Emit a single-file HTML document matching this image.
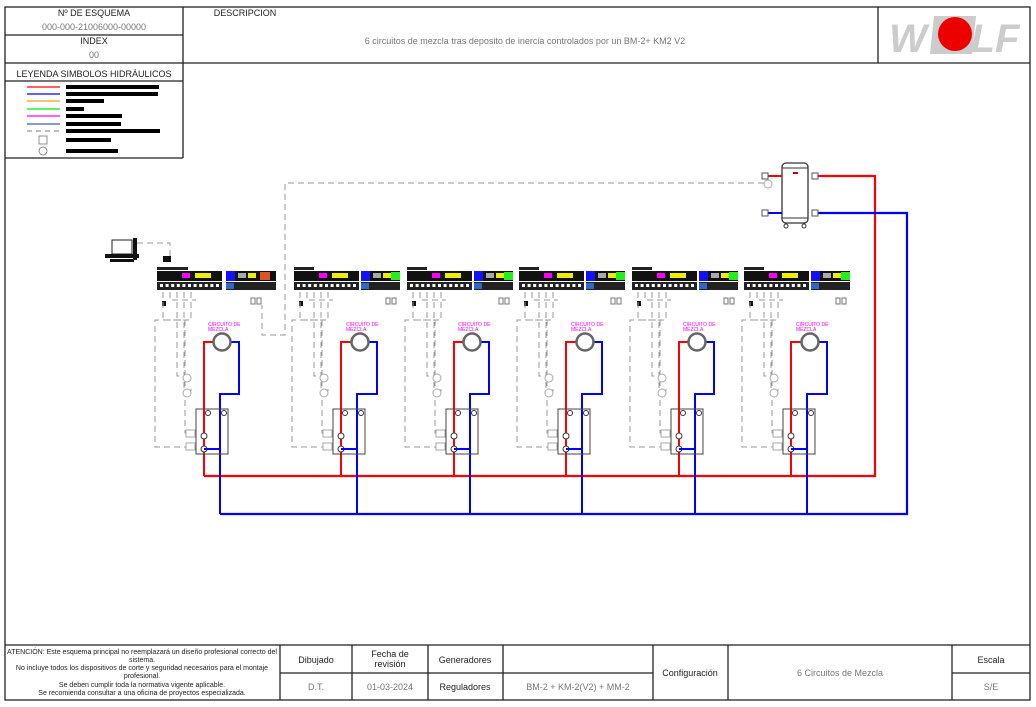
<!DOCTYPE html>
<html><head><meta charset="utf-8"><style>
body{margin:0;background:#fff;width:1036px;height:707px;overflow:hidden;font-family:"Liberation Sans",sans-serif}
svg{position:absolute;left:0;top:0}
text{font-family:"Liberation Sans",sans-serif}
</style></head><body>
<svg id="s" width="1036" height="707" viewBox="0 0 1036 707">
<g stroke="#222" fill="none" stroke-width="1.3">
<rect x="5" y="7" width="1025" height="693"/>
<line x1="5" y1="63" x2="1030" y2="63"/>
<line x1="183" y1="7" x2="183" y2="158"/>
<line x1="878" y1="7" x2="878" y2="63"/>
<line x1="5" y1="35" x2="183" y2="35"/>
<line x1="5" y1="81" x2="183" y2="81"/>
<line x1="5" y1="158" x2="183" y2="158"/>
<line x1="5" y1="645" x2="1030" y2="645"/>
<line x1="280" y1="645" x2="280" y2="700"/>
<line x1="352" y1="645" x2="352" y2="700"/>
<line x1="428" y1="645" x2="428" y2="700"/>
<line x1="503" y1="645" x2="503" y2="700"/>
<line x1="653" y1="645" x2="653" y2="700"/>
<line x1="728" y1="645" x2="728" y2="700"/>
<line x1="952" y1="645" x2="952" y2="700"/>
<line x1="280" y1="673" x2="653" y2="673"/>
<line x1="952" y1="673" x2="1030" y2="673"/>
</g>
<g font-size="9" text-anchor="middle" fill="#222">
<text x="94" y="16">Nº DE ESQUEMA</text>
<text x="94" y="30" fill="#777">000-000-21006000-00000</text>
<text x="94" y="44">INDEX</text>
<text x="94" y="58" fill="#777">00</text>
<text x="94" y="77">LEYENDA SIMBOLOS HIDRÁULICOS</text>
<text x="245" y="16">DESCRIPCION</text>
<text x="525" y="44" fill="#777">6 circuitos de mezcla tras deposito de inercia controlados por un BM-2+ KM2 V2</text>
<text x="316" y="663">Dibujado</text>
<text x="390" y="657">Fecha de</text><text x="390" y="667">revisión</text>
<text x="465" y="663">Generadores</text>
<text x="316" y="690" fill="#777">D.T.</text>
<text x="390" y="690" fill="#777">01-03-2024</text>
<text x="465" y="690">Reguladores</text>
<text x="578" y="690" fill="#777">BM-2 +  KM-2(V2) + MM-2</text>
<text x="690" y="676">Configuración</text>
<text x="840" y="676" fill="#777">6 Circuitos de Mezcla</text>
<text x="991" y="663">Escala</text>
<text x="991" y="690" fill="#777">S/E</text>
</g>
<g font-size="7" text-anchor="middle" fill="#222">
<text x="142" y="654">ATENCIÓN: Este esquema principal no reemplazará un diseño profesional correcto del</text>
<text x="142" y="662">sistema.</text>
<text x="142" y="670">No incluye todos los dispositivos de corte y seguridad necesarios para el montaje</text>
<text x="142" y="678">profesional.</text>
<text x="142" y="687">Se deben cumplir toda la normativa vigente aplicable.</text>
<text x="142" y="695">Se recomienda consultar a una oficina de proyectos especializada.</text>
</g>
<!-- legend -->
<g stroke-width="1.3">
<line x1="27" y1="87" x2="60" y2="87" stroke="red"/><rect x="66" y="85" width="93" height="4"/>
<line x1="27" y1="94" x2="60" y2="94" stroke="blue"/><rect x="66" y="92" width="92" height="4"/>
<line x1="27" y1="101" x2="60" y2="101" stroke="#f93"/><rect x="66" y="99" width="38" height="4"/>
<line x1="27" y1="109" x2="60" y2="109" stroke="#0e0"/><rect x="66" y="107" width="18" height="4"/>
<line x1="27" y1="116" x2="60" y2="116" stroke="#f0f"/><rect x="66" y="114" width="56" height="4"/>
<line x1="27" y1="124" x2="60" y2="124" stroke="#36b"/><rect x="66" y="122" width="55" height="4"/>
<line x1="27" y1="131" x2="60" y2="131" stroke="#999" stroke-dasharray="5,4"/><rect x="66" y="129" width="94" height="4"/>
<rect x="39" y="136" width="8" height="8" fill="none" stroke="#777" stroke-width=".8"/><rect x="66" y="138" width="45" height="4"/>
<circle cx="43" cy="151" r="4" fill="none" stroke="#777" stroke-width=".8"/><rect x="66" y="149" width="52" height="4"/>
</g>
<!-- logo -->
<polygon points="934,16 976,16 972,54 930,54" fill="#ccc"/>
<text x="908" y="52" font-size="40" font-weight="bold" font-style="italic" fill="#ccc" text-anchor="middle">W</text>
<text x="995" y="52" font-size="40" font-weight="bold" font-style="italic" fill="#ccc" text-anchor="middle">LF</text>
<circle cx="955" cy="34" r="17" fill="#e00"/>
<g id="d"></g>
</svg>
<script>
var g=document.getElementById('d'),h='';
function L(x1,y1,x2,y2,c,w,da){h+='<line x1="'+x1+'" y1="'+y1+'" x2="'+x2+'" y2="'+y2+'" stroke="'+c+'" stroke-width="'+(w||2)+'"'+(da?' stroke-dasharray="'+da+'"':'')+'/>';}
function P(p,c,w,da){h+='<polyline points="'+p+'" fill="none" stroke="'+c+'" stroke-width="'+(w||2)+'"'+(da?' stroke-dasharray="'+da+'"':'')+'/>';}
function R(x,y,w,hh,f,s){h+='<rect x="'+x+'" y="'+y+'" width="'+w+'" height="'+hh+'" fill="'+f+'"'+(s?' stroke="'+s+'" stroke-width="1"':'')+'/>';}
var G='#999',D='6,4';
P('204,476 875,476 875,176 818,176','red',2.2);
P('220,514 907,514 907,213 818,213','blue',2.2);
// tank
h+='<rect x="782" y="163" width="26" height="60" rx="4" fill="#fff" stroke="#333" stroke-width="1.3"/>';
L(782,168,808,168,'#333',1);L(782,218,808,218,'#333',1);
h+='<circle cx="786" cy="226" r="2" fill="none" stroke="#333"/><circle cx="804" cy="226" r="2" fill="none" stroke="#333"/>';
L(782,176,766,176,'red',2);L(782,213,766,213,'blue',2);
R(762,173,6,6,'#fff','#555');R(762,210,6,6,'#fff','#555');R(812,173,6,6,'#fff','#555');R(812,210,6,6,'#fff','#555');
h+='<circle cx="768" cy="184" r="4" fill="#fff" stroke="#aaa"/>';
R(793,172,5,2,'#c00');
P('764,183 285,183 285,335 262,335 262,305',G,1,D);
// PC
R(112,240,20,14,'#fff','#222');R(105,254,34,4,'#111');R(110,259,24,3,'#111');R(133,238,4,22,'#111');
P('137,243 170,243 170,262',G,1,D);R(163,256,8,6,'#111');
var cs=[[157,222,204,220,1],[294,360,341,357,0],[407,472,454,470,0],[519,585,566,582,0],[632,697,679,695,0],[744,810,791,807,0]];
cs.forEach(function(c,i){
 var cx=c[0],ox=c[1],rx=c[2],bx=c[3],f=c[4];
 R(cx,267,f?31:20,3,'#222');
 R(cx,271,65,10,'#111');R(cx+25,273,8,5,'#f0f');R(cx+38,273,16,5,'#ee0');
 R(cx,282,65,8,'#222');for(var k=0;k<11;k++)R(cx+3+k*5.6,284,3,3,'#fff');
 var mx=cx+(f?69:67);
 R(mx,271,f?50:39,10,'#111');R(mx,271,9,10,'#11f');R(mx+12,273,8,5,'#aaa');R(mx+22,273,8,5,'#ee0');if(!f)R(mx+30,272,9,8,'#2e2');else R(mx+34,272,10,8,'#d52');
 R(mx,282,f?50:39,8,'#222');R(mx,283,8,6,'#36c');
 R(cx+5,301,4,5,'#111');R(mx+25,298,4,6,'#fff','#777');R(mx+31,298,4,6,'#fff','#777');
 P((cx+6)+',292 '+(cx+6)+',320 '+(rx-19)+',320 '+(rx-19)+',433 '+(rx-10)+',433',G,1,D);
 P((cx+13)+',292 '+(cx+13)+',300 '+(rx-8)+',300',G,1,D);
 P((cx+27)+',292 '+(cx+27)+',300 '+(cx+27)+',390 '+(rx-12)+',390',G,1,D);
 P((cx+20)+',292 '+(cx+20)+',310 '+(cx+20)+',376 '+(rx-12)+',376',G,1,D);
 P((cx+34)+',292 '+(cx+34)+',300 '+(cx+34)+',320 '+(cx-2)+',320 '+(cx-2)+',447 '+(rx-10)+',447',G,1,D);
 P(rx+',476 '+rx+',342 '+(ox-9)+',342','red',2);
 P((ox+9)+',342 '+(ox+17)+',342 '+(ox+17)+',394 '+bx+',394 '+bx+',514','blue',2);
 h+='<circle cx="'+ox+'" cy="'+342+'" r="8.5" fill="#fff" stroke="#666" stroke-width="2.5"/>';
 h+='<text x="'+(ox-14)+'" y="326" font-size="5" fill="#f0f">CIRCUITO DE</text><text x="'+(ox-14)+'" y="331" font-size="5" fill="#f0f">MEZCLA</text>';
 h+='<circle cx="'+(rx-17)+'" cy="378" r="4" fill="#fff" stroke="#aaa"/><circle cx="'+(rx-17)+'" cy="393" r="4" fill="#fff" stroke="#aaa"/>';
 R(rx-8,409,32,45,'none','#444');
 R(rx-18,430,9,7,'#fff','#aaa');R(rx-18,443,9,7,'#fff','#aaa');
 h+='<circle cx="'+rx+'" cy="436" r="3" fill="#fff" stroke="#333"/><circle cx="'+rx+'" cy="449" r="3" fill="#fff" stroke="#333"/><circle cx="'+(rx+4)+'" cy="413" r="2.5" fill="#fff" stroke="#333"/><circle cx="'+(bx+4)+'" cy="413" r="2.5" fill="#fff" stroke="#333"/>';
 L(rx,449,bx,449,'blue',2);
});
g.innerHTML=h;
</script>
</body></html>
